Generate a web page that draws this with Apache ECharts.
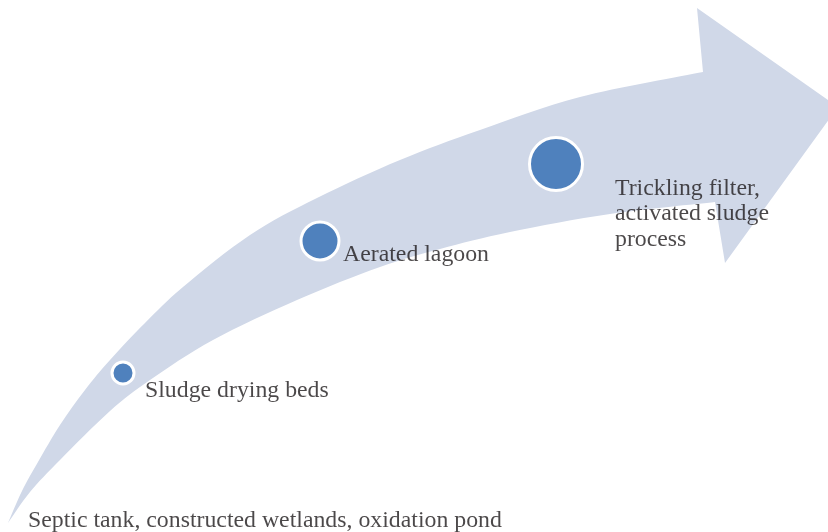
<!DOCTYPE html>
<html>
<head>
<meta charset="utf-8">
<script src="https://cdn.jsdelivr.net/npm/echarts@6/dist/echarts.min.js"></script>
<style>
  html, body { margin: 0; padding: 0; background: #fff; }
  #main { width: 828px; height: 532px; }
</style>
</head>
<body>
<div id="main"></div>
<script>
// contorno de la flecha (coordenadas del lienzo, y hacia abajo)
const arrowUpper = [[8, 523], [22, 491], [38, 462], [60, 425], [85, 390], [110, 360], [145, 323],
  [183, 287], [250, 235], [317, 198], [400, 160], [480, 130], [580, 97], [703, 72]];
const arrowHead = [[703, 72], [697, 8], [838, 107], [725, 263], [715, 202]];
const arrowLower = [[715, 202], [610, 214], [510, 232], [440, 249], [380, 267], [297, 300],
  [213, 340], [150, 380], [110, 411], [60, 460], [30, 492], [8, 523]];

// etapas: posición del círculo y tamaño
const stageX = [123, 320, 556];
const stageY = [373, 241, 164];
const stageSize = [22, 38, 53];

// etiquetas
const labelText = [
  'Septic tank, constructed wetlands, oxidation pond',
  'Sludge drying beds',
  'Aerated lagoon',
  'Trickling filter,\nactivated sludge\nprocess'
];
const labelX = [28, 145, 343, 615];
const labelY = [521, 391, 255, 214];

const chart = echarts.init(document.getElementById('main'));

// curva suave (Catmull-Rom) a través de los puntos ya convertidos
function smoothPath(pts) {
  let d = '';
  for (let i = 0; i < pts.length - 1; i++) {
    const p0 = pts[Math.max(i - 1, 0)], p1 = pts[i], p2 = pts[i + 1], p3 = pts[Math.min(i + 2, pts.length - 1)];
    const c1 = [p1[0] + (p2[0] - p0[0]) / 6, p1[1] + (p2[1] - p0[1]) / 6];
    const c2 = [p2[0] - (p3[0] - p1[0]) / 6, p2[1] - (p3[1] - p1[1]) / 6];
    d += ' C' + c1[0] + ',' + c1[1] + ' ' + c2[0] + ',' + c2[1] + ' ' + p2[0] + ',' + p2[1];
  }
  return d;
}

const option = {
  backgroundColor: '#fff',
  animation: false,
  grid: { left: 0, right: 0, top: 0, bottom: 0 },
  xAxis: { type: 'value', min: 0, max: 828, show: false },
  yAxis: { type: 'value', min: 0, max: 532, inverse: true, show: false },
  series: [
    {
      type: 'custom',
      silent: true,
      clip: false,
      data: [[0, 0]],
      renderItem: function (params, api) {
        const up = arrowUpper.map(p => api.coord(p));
        const head = arrowHead.map(p => api.coord(p));
        const low = arrowLower.map(p => api.coord(p));
        let d = 'M' + up[0][0] + ',' + up[0][1] + smoothPath(up);
        head.slice(1).forEach(p => { d += ' L' + p[0] + ',' + p[1]; });
        d += smoothPath(low) + ' Z';
        return {
          type: 'path',
          shape: { pathData: d },
          style: { fill: '#D0D8E8' }
        };
      }
    },
    {
      type: 'scatter',
      silent: true,
      data: stageX.map((x, i) => [x, stageY[i], stageSize[i]]),
      symbolSize: v => v[2],
      itemStyle: { color: '#4F81BD', borderColor: '#fff', borderWidth: 3, opacity: 1 },
      z: 3
    },
    {
      type: 'scatter',
      silent: true,
      symbolSize: 0,
      data: labelText.map((t, i) => ({ value: [labelX[i], labelY[i]], name: t })),
      label: {
        show: true,
        position: 'right',
        distance: 0,
        formatter: p => p.name,
        fontFamily: 'Liberation Serif',
        fontSize: 23.8,
        lineHeight: 25.5,
        color: '#1E1A1B'
      },
      z: 4
    }
  ]
};

chart.setOption(option);
</script>
</body>
</html>
